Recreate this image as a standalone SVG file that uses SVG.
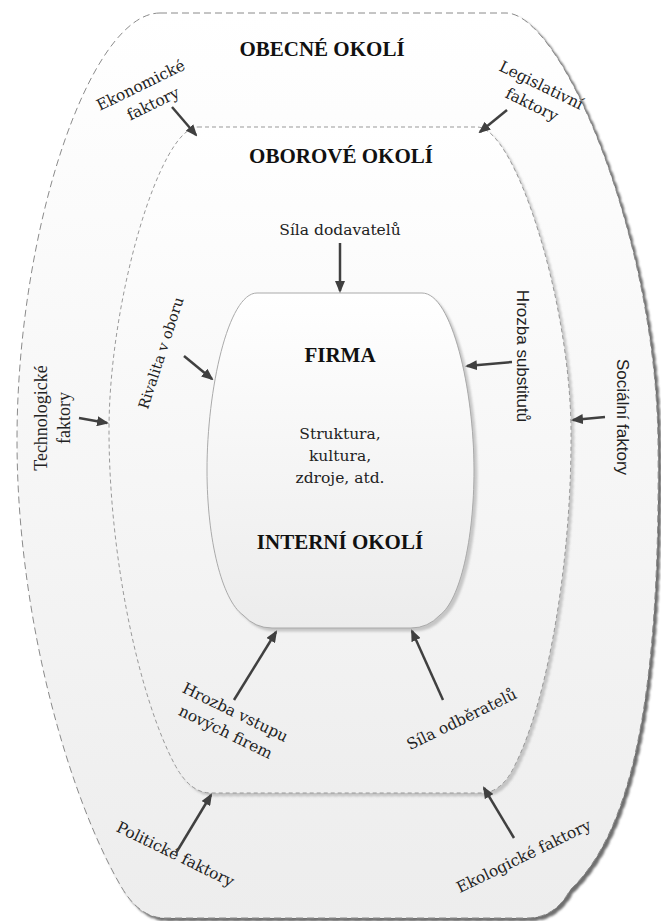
<svg xmlns="http://www.w3.org/2000/svg" width="661" height="921" viewBox="0 0 661 921">
  <defs>
    <linearGradient id="fillOuter" x1="0" y1="0" x2="0" y2="1">
      <stop offset="0" stop-color="#ffffff"/>
      <stop offset="1" stop-color="#ededed"/>
    </linearGradient>
    <linearGradient id="fillMid" x1="0" y1="0" x2="0" y2="1">
      <stop offset="0" stop-color="#ffffff"/>
      <stop offset="1" stop-color="#eeeeee"/>
    </linearGradient>
    <linearGradient id="fillInner" x1="0" y1="0" x2="0" y2="1">
      <stop offset="0" stop-color="#ffffff"/>
      <stop offset="1" stop-color="#ececec"/>
    </linearGradient>
    <filter id="shadowDark" x="-5%" y="-5%" width="115%" height="115%">
      <feGaussianBlur in="SourceAlpha" stdDeviation="1"/>
      <feOffset dx="3" dy="3" result="b"/>
      <feFlood flood-color="#555" flood-opacity="0.85"/>
      <feComposite in2="b" operator="in" result="s"/>
      <feMerge><feMergeNode in="s"/><feMergeNode in="SourceGraphic"/></feMerge>
    </filter>
    <filter id="shadowLight" x="-5%" y="-5%" width="115%" height="115%">
      <feGaussianBlur in="SourceAlpha" stdDeviation="1.2"/>
      <feOffset dx="2.5" dy="2.5" result="b"/>
      <feFlood flood-color="#999" flood-opacity="0.5"/>
      <feComposite in2="b" operator="in" result="s"/>
      <feMerge><feMergeNode in="s"/><feMergeNode in="SourceGraphic"/></feMerge>
    </filter>
    <marker id="arrow" viewBox="0 0 12 10" refX="10" refY="5" markerWidth="12" markerHeight="10" markerUnits="userSpaceOnUse" orient="auto">
      <path d="M0,0 L12,5 L0,10 Z" fill="#404040"/>
    </marker>
  </defs>
  <style>
    .head { font-family: "Liberation Serif", "Times New Roman", serif; font-weight: bold; font-size: 21px; fill: #111; text-anchor: middle; }
    .lbl { font-family: "DejaVu Serif", "Liberation Serif", serif; font-size: 15.5px; fill: #222; text-anchor: middle; }
    .tms { font-family: "Liberation Serif", "Times New Roman", serif; font-size: 18px; fill: #222; text-anchor: middle; }
    .sans { font-family: "Liberation Sans", Arial, sans-serif; font-size: 17px; fill: #222; text-anchor: middle; }
    .conn { stroke: #404040; stroke-width: 2.5; fill: none; marker-end: url(#arrow); }
  </style>

  <!-- general environment -->
  <g id="obecne-okoli">
    <path filter="url(#shadowDark)" fill="url(#fillOuter)" stroke="#8a8a8a" stroke-width="1" stroke-dasharray="7 4"
      d="M160,13 L506,13 C560,13 655,230 658,440 C660,640 645,820 570,890 Q555,918 527,918 L165,918 Q140,918 122,888 C70,800 17,620 17,440 C17,230 90,13 160,13 Z"/>
    <text class="head" x="322" y="56">OBECNÉ OKOLÍ</text>
  </g>

  <!-- industry environment -->
  <g id="oborove-okoli">
    <path filter="url(#shadowLight)" fill="url(#fillMid)" stroke="#999" stroke-width="1" stroke-dasharray="4 3"
      d="M198,127 L477,127 C515,127 570,300 571,430 C572,560 548,700 515,765 Q502,793 481,793 L211,793 Q190,793 175,765 C140,700 109,560 109,430 C109,300 160,127 198,127 Z"/>
    <text class="head" x="341" y="163">OBOROVÉ OKOLÍ</text>
  </g>

  <!-- the firm / internal environment -->
  <g id="firma">
    <path filter="url(#shadowLight)" fill="url(#fillInner)" stroke="#aaa" stroke-width="1"
      d="M257,293 L422,293 C452,293 474,390 474,470 C474,540 460,600 440,615 Q428,628 411,628 L272,628 Q255,628 243,615 C222,600 207,540 207,470 C207,390 228,293 257,293 Z"/>
    <text class="head" x="340" y="362">FIRMA</text>
    <text class="lbl" x="340" y="439">Struktura,</text>
    <text class="lbl" x="340" y="461">kultura,</text>
    <text class="lbl" x="340" y="483">zdroje, atd.</text>
    <text class="head" x="340" y="549">INTERNÍ OKOLÍ</text>
  </g>

  <!-- factor labels -->
  <g id="ekonomicke-faktory" transform="translate(143,90) rotate(-26)">
    <text class="lbl" x="0" y="0">Ekonomické</text>
    <text class="lbl" x="3" y="22">faktory</text>
  </g>
  <g id="legislativni-faktory" transform="translate(539,90) rotate(26)">
    <text class="lbl" x="0" y="0">Legislativní</text>
    <text class="lbl" x="0" y="21.5">faktory</text>
  </g>
  <g id="technologicke-faktory" transform="translate(0,418) rotate(-90)">
    <text class="tms" x="0" y="47">Technologické</text>
    <text class="tms" x="0" y="70">faktory</text>
  </g>
  <g id="socialni-faktory" transform="translate(617,417) rotate(90)">
    <text class="sans" x="0" y="0">Sociální faktory</text>
  </g>
  <g id="sila-dodavatelu">
    <text class="lbl" x="340" y="235">Síla dodavatelů</text>
  </g>
  <g id="rivalita-v-oboru" transform="translate(161,353) rotate(-72)">
    <text class="lbl" x="0" y="5" style="font-size:14.5px">Rivalita v oboru</text>
  </g>
  <g id="hrozba-substitutu" transform="translate(517,356) rotate(90)">
    <text class="sans" x="0" y="0">Hrozba substitutů</text>
  </g>
  <g id="hrozba-vstupu" transform="translate(233,717) rotate(26)">
    <text class="lbl" x="0" y="0">Hrozba vstupu</text>
    <text class="lbl" x="0" y="22">nových firem</text>
  </g>
  <g id="sila-odberatelu" transform="translate(464,724) rotate(-26)">
    <text class="lbl" x="0" y="0">Síla odběratelů</text>
  </g>
  <g id="politicke-faktory" transform="translate(173,859) rotate(26)">
    <text class="lbl" x="0" y="0">Politické faktory</text>
  </g>
  <g id="ekologicke-faktory" transform="translate(526,861) rotate(-26)">
    <text class="lbl" x="0" y="0">Ekologické faktory</text>
  </g>

  <!-- connectors -->
  <g id="connectors">
    <line class="conn" x1="172" y1="107" x2="196" y2="135"/>
    <line class="conn" x1="507" y1="110" x2="480" y2="132"/>
    <line class="conn" x1="340" y1="243" x2="340" y2="291"/>
    <line class="conn" x1="79" y1="418" x2="107" y2="423"/>
    <line class="conn" x1="605" y1="417" x2="573" y2="420"/>
    <line class="conn" x1="184" y1="356" x2="212" y2="379"/>
    <line class="conn" x1="512" y1="362" x2="467" y2="366"/>
    <line class="conn" x1="234" y1="700" x2="276" y2="632"/>
    <line class="conn" x1="443" y1="700" x2="412" y2="631"/>
    <line class="conn" x1="176" y1="853" x2="211" y2="795"/>
    <line class="conn" x1="514" y1="838" x2="484" y2="788"/>
  </g>
</svg>
